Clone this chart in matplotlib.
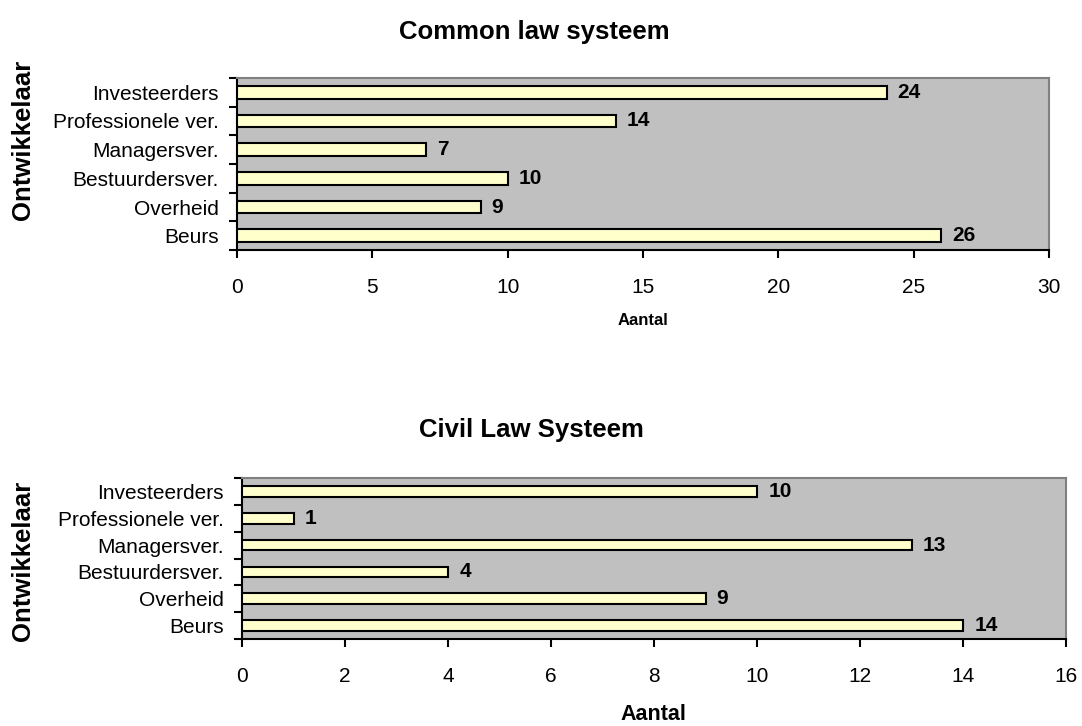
import matplotlib
matplotlib.use("Agg")
import matplotlib.pyplot as plt
from matplotlib.ticker import FixedLocator

plt.rcParams['font.family'] = ['Liberation Sans', 'DejaVu Sans']

categories = ["Beurs", "Overheid", "Bestuurdersver.", "Managersver.",
              "Professionele ver.", "Investeerders"]
common_law = [26, 9, 10, 7, 14, 24]
civil_law = [14, 9, 4, 13, 1, 10]

BG = "#c0c0c0"
BAR = "#ffffcc"

fig = plt.figure(figsize=(10.82, 7.26), dpi=100)


def draw(ax, values, xmax, step, bar_h):
    ax.set_facecolor(BG)
    ypos = list(range(len(categories)))
    bars = ax.barh(ypos, values, height=bar_h, color=BAR,
                   edgecolor="black", linewidth=1.5, zorder=3)
    for b, v in zip(bars, values):
        ax.annotate(str(v), (b.get_width(), b.get_y() + b.get_height() / 2),
                    xytext=(8, 0), textcoords="offset points",
                    va="center", ha="left", fontsize=15, fontweight="bold")
    ax.set_xlim(0, xmax)
    ax.set_ylim(-0.5, len(categories) - 0.5)
    ax.set_xticks(range(0, xmax + 1, step))
    ax.set_yticks(ypos)
    ax.set_yticklabels(categories)
    ax.yaxis.set_minor_locator(FixedLocator([i - 0.5 for i in range(len(categories) + 1)]))
    ax.tick_params(axis="y", which="major", length=0, pad=13, labelsize=15)
    ax.tick_params(axis="y", which="minor", length=6, width=1.5, direction="out")
    ax.tick_params(axis="x", length=6, width=1.5, direction="out", pad=14,
                   labelsize=15)
    for s in ("left", "bottom"):
        ax.spines[s].set_color("black")
        ax.spines[s].set_linewidth(1.5)
    for s in ("top", "right"):
        ax.spines[s].set_color("#808080")
        ax.spines[s].set_linewidth(1.5)


ax1 = fig.add_axes([0.219, 0.6556, 0.7505, 0.237])
draw(ax1, common_law, 30, 5, 0.45)
ax2 = fig.add_axes([0.2237, 0.1198, 0.7616, 0.2218])
draw(ax2, civil_law, 16, 2, 0.4)

# titles and axis labels placed in figure coordinates
fig.text(0.494, 0.956, "Common law systeem", ha="center", va="center",
         fontsize=18.5, fontweight="bold")
fig.text(0.491, 0.408, "Civil Law Systeem", ha="center", va="center",
         fontsize=18.5, fontweight="bold")
fig.text(0.594, 0.559, "Aantal", ha="center", va="center",
         fontsize=12, fontweight="bold")
fig.text(0.604, 0.0165, "Aantal", ha="center", va="center",
         fontsize=15.5, fontweight="bold")
fig.text(0.021, 0.807, "Ontwikkelaar", ha="center", va="center",
         rotation=90, fontsize=18.5, fontweight="bold")
fig.text(0.021, 0.227, "Ontwikkelaar", ha="center", va="center",
         rotation=90, fontsize=18.5, fontweight="bold")

fig.savefig("out.png", dpi=100)
